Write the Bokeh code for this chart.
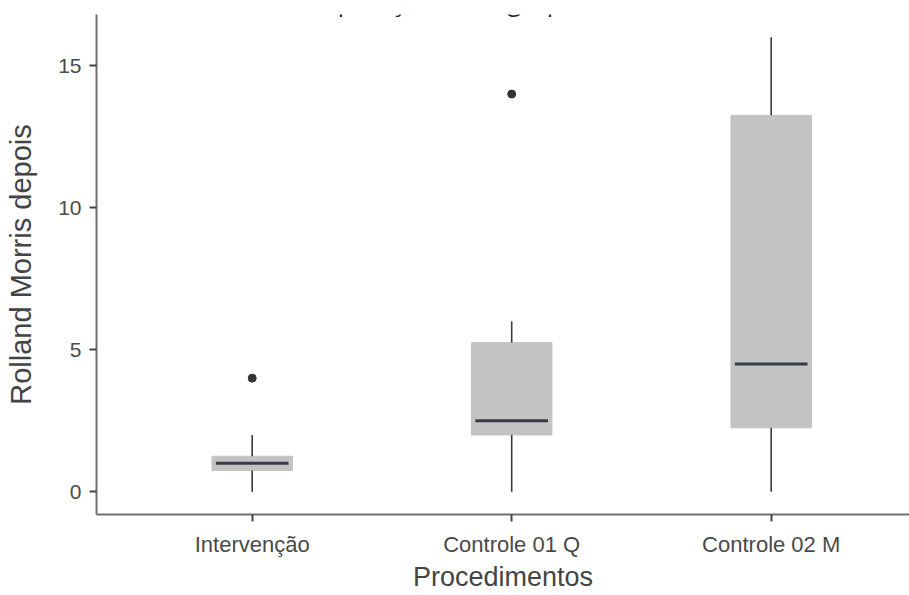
import math
from bokeh.plotting import figure
from bokeh.models import Range1d, FixedTicker, Label
from bokeh.embed import file_html
from bokeh.resources import INLINE

# ---- data ----
categories = ["Intervenção", "Controle 01 Q", "Controle 02 M"]
positions = [0, 1, 2]
q1 = [0.75, 2.0, 2.25]
median = [1.0, 2.5, 4.5]
q3 = [1.25, 5.25, 13.25]
whisker_low = [0.0, 0.0, 0.0]
whisker_high = [2.0, 6.0, 16.0]
outlier_pos = [0, 1]
outlier_val = [4.0, 14.0]
y_ticks = [0, 5, 10, 15]

title_text = "Comparação entre grupos"
x_title = "Procedimentos"
y_title = "Rolland Morris depois"

# ---- styling ----
BOX_W = 0.31
MED_W = 0.28
FONT = "Liberation Sans"

p = figure(width=909, height=595,
           x_range=Range1d(-0.6, 2.533), y_range=Range1d(-0.8, 16.8),
           output_backend="svg", toolbar_location=None,
           min_border_left=96, min_border_right=0,
           min_border_top=14, min_border_bottom=81)
p.outline_line_color = None
p.grid.visible = False
p.background_fill_color = "white"
p.border_fill_color = "white"

# boxes
p.vbar(x=positions, width=BOX_W, bottom=q1, top=q3,
       fill_color="#c3c3c3", line_color="#c3c3c3", line_width=1)
# whiskers
p.segment(x0=positions, y0=q3, x1=positions, y1=whisker_high,
          line_color="#3a3a3a", line_width=1.6)
p.segment(x0=positions, y0=q1, x1=positions, y1=whisker_low,
          line_color="#3a3a3a", line_width=1.6)
# medians
p.segment(x0=[x - MED_W / 2 for x in positions], y0=median,
          x1=[x + MED_W / 2 for x in positions], y1=median,
          line_color="#363b46", line_width=3)
# outliers
p.scatter(x=outlier_pos, y=outlier_val, size=8,
          fill_color="#333333", line_color="#333333")

# axes
for ax in (p.xaxis[0], p.yaxis[0]):
    ax.axis_line_color = "#707070"
    ax.axis_line_width = 2
    ax.major_tick_line_color = "#444444"
    ax.major_tick_line_width = 2
    ax.major_tick_out = 7
    ax.major_tick_in = 0
    ax.minor_tick_line_color = None
    ax.major_label_text_font = FONT
    ax.major_label_text_color = "#4a4a4a"
    ax.axis_label_text_font = FONT
    ax.axis_label_text_font_style = "normal"
    ax.axis_label_text_color = "#444444"

p.xaxis.ticker = FixedTicker(ticks=positions)
p.xaxis.major_label_overrides = {i: c for i, c in zip(positions, categories)}
p.xaxis.major_label_text_font_size = "22px"
p.xaxis.major_label_standoff = 10
p.xaxis.axis_label = x_title
p.xaxis.axis_label_text_font_size = "27px"
p.xaxis.axis_label_standoff = 2

p.yaxis.ticker = FixedTicker(ticks=y_ticks)
p.yaxis.major_label_text_font_size = "21px"
p.yaxis.major_label_standoff = 8
p.yaxis.axis_label = y_title
p.yaxis.axis_label_text_font_size = "29px"
p.yaxis.axis_label_standoff = 18

# title (cut off at the top in the reference)
p.add_layout(Label(x=0.71, y=17.26, text=title_text, text_font="Open Sans",
                   text_font_size="25px", text_color="#222222",
                   text_align="center", text_baseline="alphabetic"))

open("out.html", "w").write(file_html(p, INLINE))
